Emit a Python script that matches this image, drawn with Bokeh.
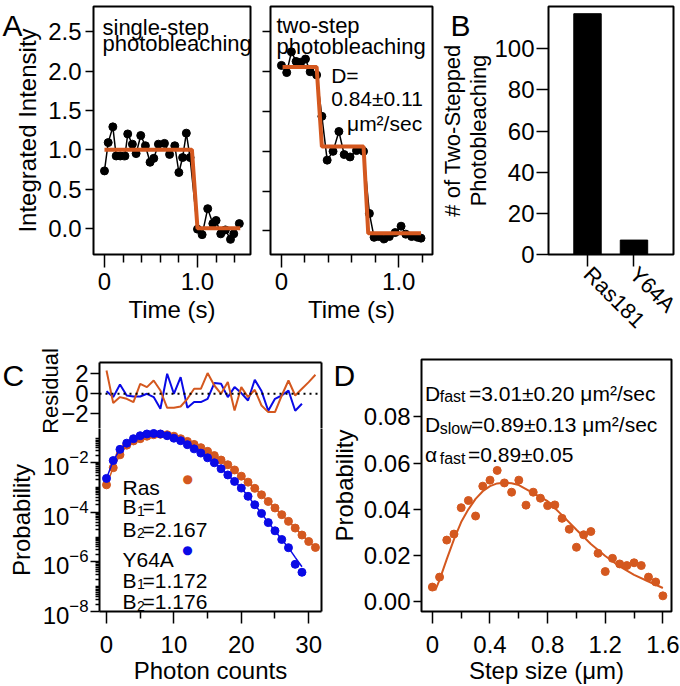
import math
from bokeh.plotting import figure
from bokeh.models import (Range1d, FixedTicker, Label, Span, LinearAxis,
                          NumeralTickFormatter, CustomLabelingPolicy)
from bokeh.layouts import row, column
from bokeh.embed import file_html
from bokeh.resources import INLINE

FONT = "Liberation Sans"
ORANGE = "#D4581F"
BLUE = "#0A0AE6"

# ---------------- data ----------------
# Panel A, left: single-step photobleaching trace
a1_time = [0.00, 0.04, 0.09, 0.126, 0.17, 0.22, 0.25, 0.30, 0.34, 0.39, 0.44, 0.49,
           0.53, 0.58, 0.645, 0.70, 0.756, 0.80, 0.84, 0.88, 0.92,
           1.00, 1.05, 1.11, 1.165, 1.20, 1.25, 1.30, 1.355, 1.39, 1.45]
a1_intensity = [0.73, 1.09, 1.29, 0.92, 0.92, 0.92, 1.20, 1.07, 0.95, 1.18, 1.05, 0.84,
                0.89, 1.07, 1.08, 0.94, 1.05, 0.71, 0.90, 1.21, 0.90,
                -0.01, -0.08, 0.25, 0.06, 0.10, -0.07, -0.02, -0.14, -0.07, 0.06]
a1_fit_time = [0.0, 0.94, 1.0, 1.46]
a1_fit_level = [1.0, 1.0, 0.0, 0.0]

# Panel A, right: two-step photobleaching trace
a2_time = [0.00, 0.045, 0.085, 0.125, 0.165, 0.205, 0.245, 0.300, 0.345, 0.390,
           0.440, 0.490, 0.535, 0.585, 0.640, 0.700, 0.750, 0.790, 0.830, 0.875,
           0.920, 0.970, 1.020, 1.060, 1.110, 1.160, 1.190]
a2_intensity = [2.08, 1.99, 2.25, 2.13, 2.12, 2.16, 2.00, 1.96, 1.44, 0.89,
                1.00, 1.25, 0.96, 0.93, 1.01, 1.00, 0.22, -0.08, -0.07, -0.10,
                -0.07, -0.02, 0.06, -0.04, -0.07, -0.08, -0.09]
a2_fit_time = [0.01, 0.30, 0.345, 0.70, 0.74, 1.19]
a2_fit_level = [2.06, 2.06, 1.06, 1.06, -0.03, -0.03]

a_time_ticks = [0, 1.0]
a_time_tick_labels = ["0", "1.0"]
a_time_minor = [0.2, 0.4, 0.6, 0.8, 1.2, 1.4]
a_int_ticks = [0.0, 0.5, 1.0, 1.5, 2.0, 2.5]

# Panel B
b_categories = ["Ras181", "Y64A"]
b_counts = [117, 7]
b_ticks = [0, 20, 40, 60, 80, 100]

# Panel C: photon-count histograms (log10 probability) and residuals
c_counts_ras = list(range(32))
c_counts_y64a = list(range(30))
ras_log10_prob = [-2.90, -2.21, -1.69, -1.30, -1.13, -1.04, -0.94, -0.88, -0.86, -0.88,
                  -0.94, -1.04, -1.15, -1.27, -1.40, -1.55, -1.72, -1.90, -2.09, -2.30,
                  -2.55, -2.79, -3.04, -3.30, -3.57, -3.83, -4.10, -4.37, -4.64, -4.92,
                  -5.18, -5.42]
y64a_log10_prob = [-2.64, -1.92, -1.47, -1.22, -1.04, -0.92, -0.85, -0.83, -0.85, -0.92,
                   -1.02, -1.12, -1.28, -1.45, -1.62, -1.81, -2.01, -2.25, -2.50, -2.76,
                   -3.03, -3.36, -3.70, -4.05, -4.42, -4.75, -5.10, -5.43, -6.10, -6.42]
y64a_fit_log10_prob = y64a_log10_prob[:28] + [-5.82, -6.20]
ras_resid = [2.33, -0.93, -0.33, -0.50, -0.83, 1.00, 0.67, 1.33, 0.33, -1.40,
             -1.40, -1.27, -0.50, 0.50, 0.50, 2.07, 0.83, 0.00, 1.17, -1.67,
             0.67, -0.33, 0.40, -1.17, -1.83, -1.83, -0.17, 1.33, -0.17, 0.50,
             1.17, 1.90]
y64a_resid = [0.26, -0.33, 0.93, -0.17, -0.27, -0.27, 0.00, -0.33, -1.50, 2.00,
              0.00, 1.67, -1.40, -0.83, -0.83, -0.50, 1.07, 1.00, -0.33, 0.67,
              0.07, -0.67, 1.40, 0.27, -1.70, -0.50, -0.17, 0.33, -1.70, -1.00]
c_count_ticks = [0, 10, 20, 30]
c_count_minor = [5, 15, 25]
c_resid_ticks = [-2, 0, 2]
c_prob_ticks = [1e-8, 1e-6, 1e-4, 1e-2]

# Panel D: step-size distribution
d_step = [0.00, 0.05, 0.10, 0.15, 0.20, 0.25, 0.30, 0.35, 0.40, 0.45, 0.50, 0.55,
          0.60, 0.65, 0.70, 0.75, 0.80, 0.85, 0.90, 0.95, 1.00, 1.05, 1.10, 1.15,
          1.20, 1.25, 1.30, 1.35, 1.40, 1.45, 1.50, 1.55, 1.60]
d_prob = [0.0064, 0.0107, 0.0267, 0.0293, 0.0407, 0.0438, 0.0371, 0.0500, 0.0526,
          0.0568, 0.0514, 0.0474, 0.0526, 0.0418, 0.0474, 0.0448, 0.0416, 0.0419,
          0.0361, 0.0314, 0.0236, 0.0290, 0.0304, 0.0210, 0.0131, 0.0188, 0.0164,
          0.0157, 0.0169, 0.0157, 0.0107, 0.0086, 0.0026]
d_fit_step = [0.02, 0.05, 0.10, 0.15, 0.20, 0.25, 0.30, 0.35, 0.40, 0.45, 0.50, 0.55,
              0.60, 0.70, 0.80, 0.90, 1.00, 1.10, 1.20, 1.30, 1.40, 1.50, 1.60]
d_fit_prob = [0.0050, 0.0095, 0.0185, 0.0270, 0.0345, 0.0400, 0.0445, 0.0478, 0.0500,
              0.0512, 0.0515, 0.0513, 0.0505, 0.0470, 0.0435, 0.0375, 0.0312, 0.0250,
              0.0198, 0.0153, 0.0117, 0.0088, 0.0060]
d_x_ticks = [0, 0.4, 0.8, 1.2, 1.6]
d_x_tick_labels = ["0", "0.4", "0.8", "1.2", "1.6"]
d_x_minor = [0.2, 0.6, 1.0, 1.4]
d_y_ticks = [0.0, 0.02, 0.04, 0.06, 0.08]

PAGE_W, PAGE_H = 680, 686


# ---------------- helpers ----------------
class Geo:
    """Frame box in page pixels plus the data ranges shown in it."""
    def __init__(self, L, T, R, B, xr, yr, ylog=False):
        self.L, self.T, self.R, self.B = L, T, R, B
        self.xr, self.yr, self.ylog = xr, yr, ylog

    def dx(self, px):
        return self.xr[0] + (px - self.L) / (self.R - self.L) * (self.xr[1] - self.xr[0])

    def dy(self, py):
        f = (self.B - py) / (self.B - self.T)
        if self.ylog:
            a, b = math.log10(self.yr[0]), math.log10(self.yr[1])
            return 10 ** (a + f * (b - a))
        return self.yr[0] + f * (self.yr[1] - self.yr[0])


def make_fig(geo, fl, ft, fr, fb, **kw):
    p = figure(width=fr - fl, height=fb - ft,
               x_range=Range1d(*geo.xr), y_range=Range1d(*geo.yr),
               min_border_left=geo.L - fl, min_border_right=fr - geo.R,
               min_border_top=geo.T - ft, min_border_bottom=fb - geo.B,
               output_backend="svg", toolbar_location=None, **kw)
    p.xgrid.visible = False
    p.ygrid.visible = False
    p.outline_line_color = "black"
    p.outline_line_width = 2
    p.border_fill_color = None
    p.background_fill_color = None
    return p


def style_axis(ax, tick_out, minor_out=0, size=24, standoff=2, label_standoff=2,
               line=False):
    ax.axis_line_color = "black" if line else None
    ax.axis_line_width = 2
    ax.major_tick_out = tick_out
    ax.major_tick_in = 0
    ax.minor_tick_out = minor_out
    ax.minor_tick_in = 0
    ax.major_tick_line_width = 1.5
    ax.minor_tick_line_width = 1.5
    ax.major_tick_line_color = "black"
    ax.minor_tick_line_color = "black" if minor_out else None
    ax.major_label_text_font = FONT
    ax.major_label_text_font_size = f"{size}px"
    ax.major_label_text_color = "black"
    ax.major_label_standoff = standoff
    ax.axis_label_text_font = FONT
    ax.axis_label_text_font_size = "24px"
    ax.axis_label_text_font_style = "normal"
    ax.axis_label_text_color = "black"
    ax.axis_label_standoff = label_standoff


def blank_axis(p, side):
    ax = LinearAxis(ticker=FixedTicker(ticks=[]))
    style_axis(ax, 0, line=True, standoff=0, label_standoff=0)
    p.add_layout(ax, side)


def label(p, x, y, s, size, color="black", align="left", baseline="alphabetic",
          angle=0.0, font=FONT):
    p.add_layout(Label(x=x, y=y, text=s, text_font=font, text_font_size=f"{size}px",
                       text_color=color, text_align=align, text_baseline=baseline,
                       angle=angle))


def ptext(p, g, px, py, s, size, **kw):
    label(p, g.dx(px), g.dy(py), s, size, **kw)


# ---------------- Panel A (left) ----------------
gA1 = Geo(93, 6, 250, 262, (-0.118, 1.570), (-0.3325, 2.820))
pA1 = make_fig(gA1, 0, 0, 258, 344)
pA1.line(a1_time, a1_intensity, color="black", line_width=1.5)
pA1.scatter(a1_time, a1_intensity, size=8, color="black")
pA1.line(a1_fit_time, a1_fit_level, color=ORANGE, line_width=4)
pA1.xaxis.ticker = FixedTicker(ticks=a_time_ticks, minor_ticks=a_time_minor)
pA1.xaxis.major_label_overrides = dict(zip(a_time_ticks, a_time_tick_labels))
pA1.xaxis.axis_label = "Time (s)"
style_axis(pA1.xaxis[0], 13, 8, standoff=5, label_standoff=3)
pA1.yaxis.ticker = FixedTicker(ticks=a_int_ticks)
pA1.yaxis.formatter = NumeralTickFormatter(format="0.0")
pA1.yaxis.axis_label = "Integrated Intensity"
style_axis(pA1.yaxis[0], 8, standoff=4, label_standoff=4)

# ---------------- Panel A (right) ----------------
gA2 = Geo(269, 6, 432, 259, (-0.0932, 1.288), (-0.2956, 2.820))
pA2 = make_fig(gA2, 258, 0, 436, 344)
pA2.line(a2_time, a2_intensity, color="black", line_width=1.5)
pA2.scatter(a2_time, a2_intensity, size=8, color="black")
pA2.line(a2_fit_time, a2_fit_level, color=ORANGE, line_width=4)
pA2.xaxis.ticker = FixedTicker(ticks=a_time_ticks, minor_ticks=a_time_minor[:5])
pA2.xaxis.major_label_overrides = dict(zip(a_time_ticks, a_time_tick_labels))
pA2.xaxis.axis_label = "Time (s)"
style_axis(pA2.xaxis[0], 13, 8, standoff=5, label_standoff=3)
pA2.yaxis.ticker = FixedTicker(ticks=a_int_ticks)
style_axis(pA2.yaxis[0], 8, size=1, standoff=0)
pA2.yaxis.major_label_policy = CustomLabelingPolicy(code="return []")
ptext(pA2, gA2, 275, 25, "two-step", 22)
ptext(pA2, gA2, 275, 46.5, "photobleaching", 22)
ptext(pA2, gA2, 330, 76.5, "D=", 21)
ptext(pA2, gA2, 330, 100, "0.84\u00b10.11", 21)
ptext(pA2, gA2, 346, 125, "\u03bcm\u00b2/sec", 21)

# ---------------- Panel B ----------------
gB = Geo(548, 6, 673, 259, (0.161, 2.85), (0, 120.5))
pB = make_fig(gB, 436, 0, 680, 344)
b_x = [i + 1 for i in range(len(b_categories))]
pB.vbar(x=b_x, top=b_counts, width=0.59, color="black")
pB.xaxis.ticker = FixedTicker(ticks=b_x)
pB.xaxis.major_label_overrides = dict(zip(b_x, b_categories))
pB.xaxis.major_label_orientation = -math.pi / 4
style_axis(pB.xaxis[0], 12, size=22, standoff=4)
pB.yaxis.ticker = FixedTicker(ticks=b_ticks)
pB.yaxis.axis_label = "# of Two-Stepped\nPhotobleaching"
style_axis(pB.yaxis[0], 12, standoff=2, label_standoff=0)
pB.yaxis.axis_label_text_font_size = "22px"
pB.yaxis.axis_label_text_line_height = 1.05

# ---------------- Panel C (residuals) ----------------
SPLIT = 428
gCR = Geo(99, 362, 321, SPLIT, (-1.039, 31.90), (-3.47, 3.13))
pCR = make_fig(gCR, 0, 344, 327, SPLIT, x_axis_location=None)
pCR.outline_line_color = None
pCR.yaxis.ticker = FixedTicker(ticks=c_resid_ticks)
style_axis(pCR.yaxis[0], 9, line=True, standoff=2)
blank_axis(pCR, "above")
blank_axis(pCR, "right")
pCR.add_layout(Span(location=0, dimension="width", line_color="black",
                    line_width=2, line_dash="2 4"))
pCR.line(c_counts_y64a, y64a_resid, color=BLUE, line_width=2)
pCR.line(c_counts_ras, ras_resid, color=ORANGE, line_width=2)

# ---------------- Panel C (probability) ----------------
gCP = Geo(99, SPLIT, 321, 613, (-1.039, 31.90), (1e-8, 10 ** -0.6295), ylog=True)
pCP = make_fig(gCP, 0, SPLIT, 327, 686, y_axis_type="log")
pCP.outline_line_color = None
ras_prob = [10 ** v for v in ras_log10_prob]
y64a_prob = [10 ** v for v in y64a_log10_prob]
y64a_fit_prob = [10 ** v for v in y64a_fit_log10_prob]
pCP.line(c_counts_ras, ras_prob, color=ORANGE, line_width=1.5)
pCP.scatter(c_counts_ras, ras_prob, size=8, color=ORANGE)
pCP.line(c_counts_y64a, y64a_fit_prob, color=BLUE, line_width=1.5)
pCP.scatter(c_counts_y64a, y64a_prob, size=8, color=BLUE)
log_minor = [m * 10.0 ** e for e in range(-8, -1) for m in range(1, 10)
             if not (m == 1 and e % 2 == 0)] + [m * 1e-2 for m in range(2, 10)]
pCP.yaxis.ticker = FixedTicker(ticks=c_prob_ticks, minor_ticks=log_minor)
pCP.yaxis.axis_label = "Probability"
style_axis(pCP.yaxis[0], 9, 4, line=True, standoff=2, label_standoff=5)
pCP.xaxis.ticker = FixedTicker(ticks=c_count_ticks, minor_ticks=c_count_minor)
pCP.xaxis.axis_label = "Photon counts"
style_axis(pCP.xaxis[0], 12, 7, line=True, standoff=12, label_standoff=1)
blank_axis(pCP, "right")
# legend-like annotations
ptext(pCP, gCP, 122, 488, "Ras", 21)
ptext(pCP, gCP, 187.3, 479.3, "\u25cf", 12, color=ORANGE, align="center",
      baseline="middle", font="DejaVu Sans")
for base_y, sub, rest in [(507, "1", "=1"), (530, "2", "=2.167"),
                          (581.5, "1", "=1.172"), (603.3, "2", "=1.176")]:
    ptext(pCP, gCP, 122, base_y, "B", 21)
    ptext(pCP, gCP, 136.5, base_y + 4, sub, 14)
    ptext(pCP, gCP, 142, base_y, rest, 21)
ptext(pCP, gCP, 122, 560, "Y64A", 21)
ptext(pCP, gCP, 187, 550.7, "\u25cf", 12, color=BLUE, align="center",
      baseline="middle", font="DejaVu Sans")

# ---------------- Panel D ----------------
gD = Geo(418, 359, 671, 613, (-0.0754, 1.6598), (-0.00416, 0.10474))
pD = make_fig(gD, 327, 344, 680, 686)
pD.line(d_fit_step, d_fit_prob, color=ORANGE, line_width=2)
pD.scatter(d_step, d_prob, size=8, color=ORANGE)
pD.xaxis.ticker = FixedTicker(ticks=d_x_ticks, minor_ticks=d_x_minor)
pD.xaxis.major_label_overrides = dict(zip(d_x_ticks, d_x_tick_labels))
pD.xaxis.axis_label = "Step size (\u03bcm)"
style_axis(pD.xaxis[0], 12, 7, standoff=12, label_standoff=1)
pD.yaxis.ticker = FixedTicker(ticks=d_y_ticks)
pD.yaxis.formatter = NumeralTickFormatter(format="0.00")
pD.yaxis.axis_label = "Probability"
style_axis(pD.yaxis[0], 8, standoff=3, label_standoff=3)
for yb, head, sub, rest, sx in [(393, "D", "fast", "=3.01\u00b10.20 \u03bcm\u00b2/sec", 466),
                                (425, "D", "slow", "=0.89\u00b10.13 \u03bcm\u00b2/sec", 468),
                                (455, "\u03b1", "fast", "=0.89\u00b10.05", 465)]:
    ptext(pD, gD, 421.5, yb, head, 21)
    ptext(pD, gD, 436.5, yb + 3.5, sub, 16)
    ptext(pD, gD, sx, yb, rest, 21)

# ---------------- page overlay for texts outside the plot frames ----------------
pO = figure(width=PAGE_W, height=PAGE_H, x_range=Range1d(0, PAGE_W),
            y_range=Range1d(PAGE_H, 0), min_border=0,
            x_axis_location=None, y_axis_location=None,
            output_backend="svg", toolbar_location=None,
            margin=(-PAGE_H, 0, 0, 0))
pO.xgrid.visible = False
pO.ygrid.visible = False
pO.outline_line_color = None
pO.border_fill_color = None
pO.background_fill_color = None
for s, x, y in [("A", 2, 25), ("B", 450, 25), ("C", 2, 375), ("D", 333, 375)]:
    label(pO, x, y, s, 30)
label(pO, 102, 27, "single-step", 22)
label(pO, 102, 43, "photobleaching", 22)
label(pO, 50, 390.5, "Residual", 22, align="center", baseline="middle",
      angle=math.pi / 2)

main = column(row(pA1, pA2, pB), row(column(pCR, pCP), pD))
layout = column(main, pO)
open("out.html", "w").write(file_html(layout, INLINE))
